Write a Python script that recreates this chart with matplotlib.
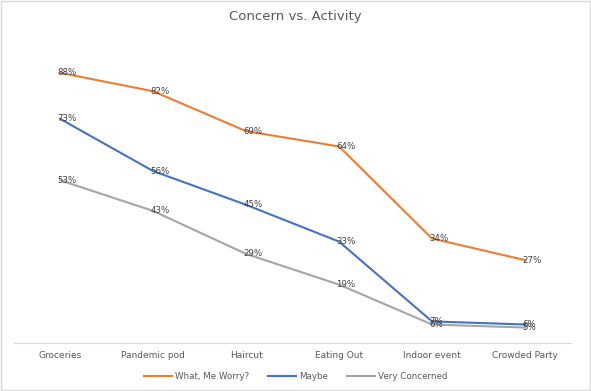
import matplotlib.pyplot as plt
from matplotlib.patches import Rectangle

categories = ["Groceries", "Pandemic pod", "Haircut", "Eating Out", "Indoor event", "Crowded Party"]
worry = [88, 82, 69, 64, 34, 27]
maybe = [73, 56, 45, 33, 7, 6]
concerned = [53, 43, 29, 19, 6, 5]

series = [
    ("What, Me Worry?", worry, "#ED7D31"),
    ("Maybe", maybe, "#4472C4"),
    ("Very Concerned", concerned, "#A5A5A5"),
]

fig = plt.figure(figsize=(5.91, 3.91), dpi=100)
ax = fig.add_axes([0.023, 0.123, 0.944, 0.785])

x = list(range(len(categories)))
for name, vals, color in series:
    ax.plot(x, vals, color=color, lw=1.5, label=name)
    for xi, v in zip(x, vals):
        ax.annotate(f"{v}%", (xi, v), xytext=(-2, 0), textcoords="offset points",
                    ha="left", va="center", fontsize=6.2, color="#404040")

ax.set_xlim(-0.5, len(categories) - 0.5)
ax.set_ylim(0, 100)
ax.set_xticks(x)
ax.set_xticklabels(categories, fontsize=6.5, color="#595959")
ax.tick_params(axis="x", length=0, pad=6)
ax.set_yticks([])
for s in ["top", "left", "right"]:
    ax.spines[s].set_visible(False)
ax.spines["bottom"].set_color("#D9D9D9")

fig.text(0.5, 0.958, "Concern vs. Activity", ha="center", va="center", fontsize=9.5, color="#595959")
leg = fig.legend(loc="center", bbox_to_anchor=(0.5, 0.038), ncol=3, frameon=False,
                 fontsize=6.3, handlelength=3.2, columnspacing=2.2, handletextpad=0.3)
for t in leg.get_texts():
    t.set_color("#595959")

fig.patches.append(Rectangle((0.002, 0.002), 0.996, 0.996, transform=fig.transFigure,
                             fill=False, edgecolor="#D9D9D9", lw=1))

plt.savefig("out.png", dpi=100)
plt.close()
